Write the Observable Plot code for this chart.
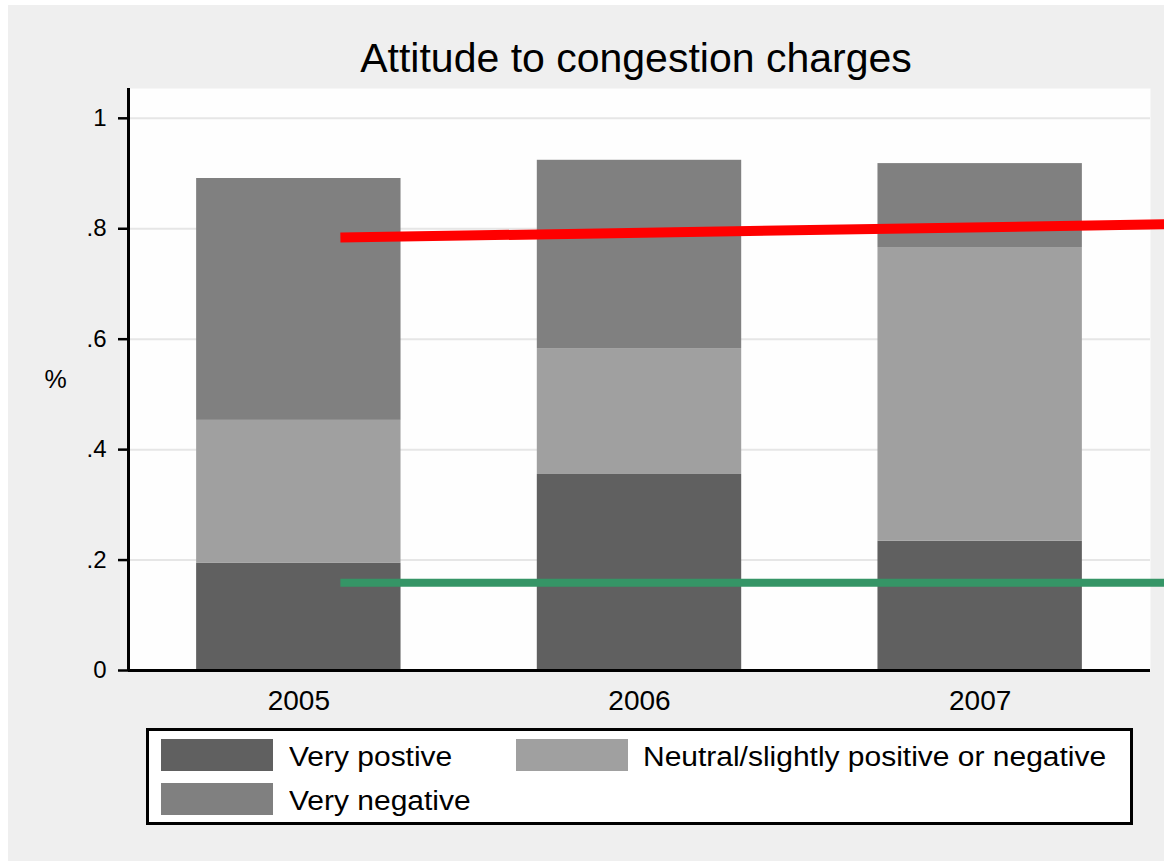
<!DOCTYPE html>
<html><head><meta charset="utf-8">
<script src="https://cdn.jsdelivr.net/npm/d3@7"></script>
<script src="https://cdn.jsdelivr.net/npm/@observablehq/plot@0.6"></script>
<style>
html,body{margin:0;padding:0;background:#fff;}
#page{position:relative;width:1164px;height:861px;overflow:hidden;background:#fff;font-family:"Liberation Sans",Arial,sans-serif;}
#bg{position:absolute;left:8px;top:5px;right:0;bottom:0;background:#efefef;}
#title{position:absolute;left:0;width:1272px;top:35px;text-align:center;font-size:41px;color:#000;white-space:nowrap;}
#chart{position:absolute;left:0;top:80px;}
#legend{position:absolute;left:146px;top:728px;width:981px;height:91px;border:3px solid #000;background:#fff;}
.sw{position:absolute;width:112px;height:32px;}
.lt{position:absolute;font-size:27px;color:#000;white-space:nowrap;transform:scaleX(1.11);transform-origin:0 50%;}
</style></head>
<body><div id="page"><div id="bg"></div><div id="title">Attitude to congestion charges</div><div id="chart"></div><div id="legend"></div></div>
<script>
const years = [2005, 2006, 2007];
const categories = ["Very postive", "Neutral/slightly positive or negative", "Very negative"];
const veryPositive = [0.194, 0.355, 0.234];
const neutral = [0.259, 0.228, 0.532];
const veryNegative = [0.438, 0.341, 0.152];
const colors = ["#606060", "#a0a0a0", "#808080"];
const lineX = [2005.122, 2007.54];
const redLineY = [0.784, 0.808];
const greenLineY = [0.159, 0.159];
const yTicks = [0, 0.2, 0.4, 0.6, 0.8, 1];

const series = [veryPositive, neutral, veryNegative];
const data = [];
years.forEach((yr, i) => {
  categories.forEach((c, j) => data.push({year: yr, cat: c, value: series[j][i]}));
});
const redLine = lineX.map((x, i) => ({x, y: redLineY[i]}));
const greenLine = lineX.map((x, i) => ({x, y: greenLineY[i]}));

const fmt = d => d === 0 ? "0" : d === 1 ? "1" : String(d).replace(/^0/, "");

const plot = Plot.plot({
  width: 1164,
  height: 640,
  marginLeft: 128,
  marginRight: 14,
  marginTop: 8,
  marginBottom: 50,
  style: {background: "transparent", fontFamily: "'Liberation Sans', Arial, sans-serif", overflow: "visible"},
  x: {domain: [2004.5, 2007.5]},
  y: {domain: [0, 1.054]},
  color: {domain: categories, range: colors},
  marks: [
    Plot.frame({fill: "#fefefe", stroke: "none"}),
    Plot.gridY(yTicks, {stroke: "#e6e6e6", strokeOpacity: 1, strokeWidth: 2}),
    Plot.rectY(data, {x1: d => d.year - 0.3, x2: d => d.year + 0.3, y: "value", fill: "cat", order: categories}),
    Plot.line(redLine, {x: "x", y: "y", stroke: "#ff0000", strokeWidth: 10, strokeLinecap: "butt", clip: false}),
    Plot.line(greenLine, {x: "x", y: "y", stroke: "#359566", strokeWidth: 8, strokeLinecap: "butt", clip: false}),
    Plot.axisY(yTicks, {tickFormat: fmt, tickSize: 10, tickPadding: 12, fontSize: 24, stroke: "#000", strokeWidth: 2.5, label: null}),
    Plot.axisX(years, {tickFormat: d => String(d), tickSize: 0, tickPadding: 20, fontSize: 28, label: null}),
    Plot.ruleX([2004.5], {stroke: "#000", strokeWidth: 3}),
    Plot.ruleY([0], {stroke: "#000", strokeWidth: 3}),
    Plot.text(["%"], {frameAnchor: "left", dx: -84, fontSize: 25, fill: "#000"})
  ]
});
document.getElementById("chart").appendChild(plot);

// legend
const legend = document.getElementById("legend");
const pos = [
  {sx: 12, sy: 8, tx: 140},
  {sx: 367, sy: 8, tx: 494},
  {sx: 12, sy: 52, tx: 140}
];
categories.forEach((c, i) => {
  const p = pos[i];
  const s = document.createElement("div");
  s.className = "sw"; s.style.left = p.sx + "px"; s.style.top = p.sy + "px"; s.style.background = colors[i];
  legend.appendChild(s);
  const t = document.createElement("div");
  t.className = "lt"; t.style.left = p.tx + "px"; t.style.top = (p.sy + 3) + "px"; t.textContent = c;
  legend.appendChild(t);
});
</script>
</body></html>
